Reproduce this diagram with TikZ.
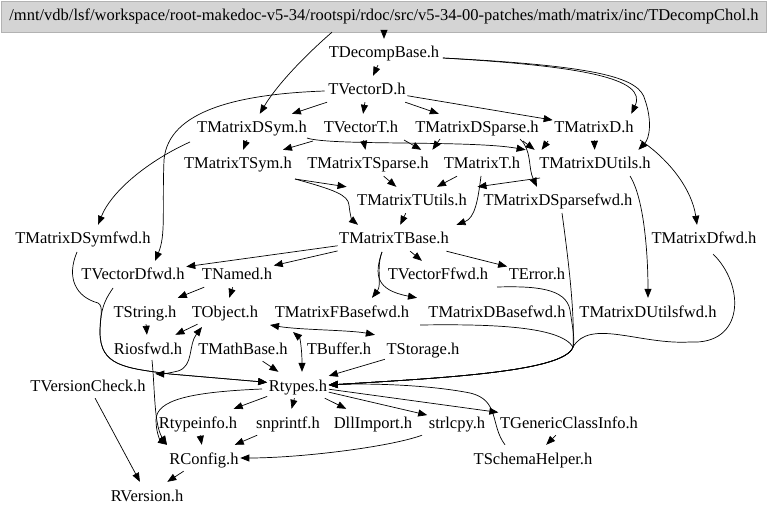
\documentclass[tikz,border=0pt]{standalone}
\usepackage{fontspec}
\setmainfont{Liberation Serif}
\usetikzlibrary{arrows.meta}
\newcommand\nodefont{\fontsize{16.5bp}{19bp}\selectfont}
\tikzset{
  nd/.style={anchor=base, text height=19bp, text depth=7bp, inner ysep=0pt, inner xsep=1.5bp, font=\nodefont},
  edg/.style={draw, line width=0.7bp, -{Triangle[length=9bp,width=7bp]}},
  edgtwo/.style={draw, line width=0.7bp, {Triangle[length=9bp,width=7bp]}-{Triangle[length=9bp,width=7bp]}},
  titlebox/.style={draw=black!30, fill=black!17, minimum width=765bp, minimum height=31bp, inner sep=0pt, font=\nodefont}
}
\begin{document}
\begin{tikzpicture}[x=1bp,y=-1bp]
\useasboundingbox (0,0) rectangle (768,515);
\node[titlebox] (title) at (384,16.5) {/mnt/vdb/lsf/workspace/root-makedoc-v5-34/rootspi/rdoc/src/v5-34-00-patches/math/matrix/inc/TDecompChol.h};
\node[nd] (TDecompBase) at (384,58) {TDecompBase.h};
\node[nd] (TVectorD) at (367,95) {TVectorD.h};
\node[nd] (TMatrixDSym) at (252,133) {TMatrixDSym.h};
\node[nd] (TVectorT) at (361,133) {TVectorT.h};
\node[nd] (TMatrixDSparse) at (477,133) {TMatrixDSparse.h};
\node[nd] (TMatrixD) at (594,133) {TMatrixD.h};
\node[nd] (TMatrixTSym) at (238,169) {TMatrixTSym.h};
\node[nd] (TMatrixTSparse) at (368,169) {TMatrixTSparse.h};
\node[nd] (TMatrixT) at (482,169) {TMatrixT.h};
\node[nd] (TMatrixDUtils) at (595,169) {TMatrixDUtils.h};
\node[nd] (TMatrixTUtils) at (412,206) {TMatrixTUtils.h};
\node[nd] (TMatrixDSparsefwd) at (558,206) {TMatrixDSparsefwd.h};
\node[nd] (TMatrixDSymfwd) at (83,244) {TMatrixDSymfwd.h};
\node[nd] (TMatrixTBase) at (394,244) {TMatrixTBase.h};
\node[nd] (TMatrixDfwd) at (704,244) {TMatrixDfwd.h};
\node[nd] (TVectorDfwd) at (133,280) {TVectorDfwd.h};
\node[nd] (TNamed) at (237,280) {TNamed.h};
\node[nd] (TVectorFfwd) at (438,280) {TVectorFfwd.h};
\node[nd] (TError) at (537,280) {TError.h};
\node[nd] (TString) at (145,317) {TString.h};
\node[nd] (TObject) at (225,317) {TObject.h};
\node[nd] (TMatrixFBasefwd) at (342,317) {TMatrixFBasefwd.h};
\node[nd] (TMatrixDBasefwd) at (497,317) {TMatrixDBasefwd.h};
\node[nd] (TMatrixDUtilsfwd) at (648,317) {TMatrixDUtilsfwd.h};
\node[nd] (Riosfwd) at (148,354) {Riosfwd.h};
\node[nd] (TMathBase) at (243,354) {TMathBase.h};
\node[nd] (TBuffer) at (339,354) {TBuffer.h};
\node[nd] (TStorage) at (423,354) {TStorage.h};
\node[nd] (TVersionCheck) at (88,391) {TVersionCheck.h};
\node[nd] (Rtypes) at (298,391) {Rtypes.h};
\node[nd] (Rtypeinfo) at (198,428) {Rtypeinfo.h};
\node[nd] (snprintf) at (288,428) {snprintf.h};
\node[nd] (DllImport) at (373,428) {DllImport.h};
\node[nd] (strlcpy) at (457,428) {strlcpy.h};
\node[nd] (TGenericClassInfo) at (569,428) {TGenericClassInfo.h};
\node[nd] (RConfig) at (204,464) {RConfig.h};
\node[nd] (TSchemaHelper) at (533,464) {TSchemaHelper.h};
\node[nd] (RVersion) at (147,501) {RVersion.h};
% top part
\draw[edg] (title) -- (TDecompBase);
\draw[edg] ([xshift=-52bp]title.south) .. controls (300,60) and (275,88) .. (TMatrixDSym);
\draw[edg] (TDecompBase) -- (TVectorD);
\draw[edg] ([shift={(2,6)}]TDecompBase.east) .. controls (580,66) and (648,78) .. ([xshift=-4bp]TMatrixD.north east);
\draw[edg] ([shift={(2,6)}]TDecompBase.east) .. controls (600,66) and (640,78) .. (645,100) .. controls (652,120) and (650,138) .. ([xshift=-14bp]TMatrixDUtils.north east);
\draw[edg] (TVectorD) -- (TMatrixDSym);
\draw[edg] (TVectorD) -- (TVectorT);
\draw[edg] (TVectorD) -- (TMatrixDSparse);
\draw[edg] (TVectorD) -- (TMatrixD);
\draw[edg] ([shift={(-2,2)}]TVectorD.west) .. controls (240,94) and (168,110) .. (164,160) .. controls (162,210) and (166,235) .. ([xshift=22bp]TVectorDfwd.north);
\draw[edg] (TMatrixDSym) -- (TMatrixTSym);
\draw[edg] ([shift={(-62,15)}]TMatrixDSym.center) .. controls (150,160) and (112,190) .. ([xshift=15bp]TMatrixDSymfwd.north);
\draw[edg] ([shift={(-48,14)}]TVectorT.center) -- (TMatrixTSym);
\draw[edg] (TVectorT) -- (TMatrixTSparse);
\draw[edg] ([shift={(43,13)}]TVectorT.center) -- ([xshift=-21bp]TMatrixT.north west);
\draw[edg] ([shift={(55,11)}]TMatrixDSym.center) .. controls (330,146) and (470,140) .. ([xshift=-12bp]TMatrixDUtils.north west);
\draw[edg] ([shift={(-37,12)}]TMatrixDSparse.center) -- ([xshift=2bp]TMatrixTSparse.north east);
\draw[edg] ([shift={(46,14)}]TMatrixDSparse.center) -- ([xshift=-3bp]TMatrixDUtils.north west);
\draw[edg] ([shift={(-46,14)}]TMatrixD.center) -- ([xshift=4bp]TMatrixDUtils.north west);
\draw[edg] ([shift={(43,12)}]TMatrixDSparse.center) .. controls (532,150) and (528,168) .. ([xshift=-21bp]TMatrixDSparsefwd.north);
\draw[edg] (TMatrixD) -- (TMatrixDUtils);
\draw[edg] ([shift={(46,13)}]TMatrixD.center) .. controls (670,160) and (692,190) .. ([xshift=-7bp]TMatrixDfwd.north);
\draw[edg] ([shift={(35,13)}]TMatrixDUtils.center) .. controls (645,200) and (648,260) .. (TMatrixDUtilsfwd);
\draw[edg] ([shift={(-55,15)}]TMatrixDUtils.center) -- ([xshift=9bp]TMatrixTUtils.north east);
\draw[edg] (TMatrixT) -- (TMatrixTUtils);
\draw[edg] (TMatrixTSparse) -- (TMatrixTUtils);
\draw[edg] ([shift={(57,16)}]TMatrixTSym.center) -- ([xshift=-9bp]TMatrixTUtils.north west);
\draw[edg] ([shift={(57,16)}]TMatrixTSym.center) .. controls (335,190) and (348,195) .. (349,205) .. controls (350,215) and (352,220) .. ([xshift=-36bp]TMatrixTBase.north);
\draw[edg] ([shift={(-1,13)}]TMatrixT.center) .. controls (478,200) and (475,218) .. ([xshift=6bp]TMatrixTBase.north east);
\draw[edg] (TMatrixTUtils) -- (TMatrixTBase);
% TMatrixTBase
\draw[edg] (TMatrixTBase) -- (TVectorDfwd);
\draw[edg] (TMatrixTBase) -- (TNamed);
\draw[edg] (TMatrixTBase) -- (TVectorFfwd);
\draw[edg] (TMatrixTBase) -- (TError);
\draw[edg] ([shift={(-12,14)}]TMatrixTBase.center) .. controls (376,268) and (382,285) .. ([xshift=30bp]TMatrixFBasefwd.north);
\draw[edg] ([shift={(-12,14)}]TMatrixTBase.center) .. controls (374,275) and (376,290) .. ([xshift=-80bp]TMatrixDBasefwd.north);
% right bundle into Rtypes
\draw[edg] ([shift={(-40,13)}]TError.center) .. controls (535,286) and (566,288) .. (570,310) .. controls (573,330) and (575,340) .. (573,347) .. controls (565,372) and (440,378) .. (Rtypes.east);
\draw[edg] ([shift={(4,13)}]TMatrixDSparsefwd.center) .. controls (567,250) and (575,310) .. (573,347) .. controls (565,372) and (440,378) .. (Rtypes.east);
\draw[edg] ([shift={(-77,14)}]TMatrixDBasefwd.center) .. controls (490,324) and (560,326) .. (573,347) .. controls (565,372) and (440,378) .. (Rtypes.east);
\draw[edg] ([shift={(9,16)}]TMatrixDfwd.center) .. controls (745,285) and (745,345) .. (690,342) .. controls (640,345) and (590,318) .. (573,347) .. controls (565,372) and (440,378) .. (Rtypes.east);
% left bundle into Rtypes
\draw[edg] ([shift={(-6,14)}]TMatrixDSymfwd.center) .. controls (66,278) and (76,297) .. (98,303) .. controls (104,306) and (100,318) .. (100,332) .. controls (100,366) and (125,368) .. (170,374) -- (Rtypes);
\draw[edg] ([shift={(-20,14)}]TVectorDfwd.center) .. controls (108,296) and (100,305) .. (100,332) .. controls (100,366) and (125,368) .. (170,374) -- (Rtypes);
% middle
\draw[edg] (TNamed) -- (TString);
\draw[edg] (TNamed) -- (TObject);
\draw[edg] (TString) -- (Riosfwd);
\draw[edg] (TObject) -- (Riosfwd);
\draw[edgtwo] ([shift={(-23,16)}]TObject.center) .. controls (188,345) and (194,366) .. (178,371) .. controls (170,373) and (162,374) .. ([shift={(8,2)}]TVersionCheck.north east);
\draw[edgtwo] ([shift={(45,14)}]TObject.center) .. controls (300,330) and (350,330) .. ([xshift=-10bp]TStorage.north west);
\draw[edgtwo] ([shift={(68,21)}]TObject.center) .. controls (300,338) and (302,350) .. ([xshift=4bp]Rtypes.north);
\draw[edg] (TMathBase) -- (Rtypes);
\draw[edg] (TStorage) -- (Rtypes);
% Rtypes outgoing
\draw[edg] (Rtypes) -- (Rtypeinfo);
\draw[edg] (Rtypes) -- (snprintf);
\draw[edg] (Rtypes) -- (DllImport);
\draw[edg] (Rtypes) -- (strlcpy);
\draw[edg] (Rtypes) -- (TGenericClassInfo);
\draw[edg] ([xshift=-28bp]TSchemaHelper.north) .. controls (490,425) and (500,400) .. (470,393) .. controls (430,385) and (370,383) .. (Rtypes.east);
\draw[edg] (TGenericClassInfo) -- (TSchemaHelper);
\draw[edg] (Rtypeinfo) -- (RConfig);
\draw[edg] (snprintf) -- (RConfig);
\draw[edg] ([xshift=-35bp]strlcpy.south) .. controls (390,447) and (300,458) .. (RConfig.east);
\draw[edg] ([shift={(-36,4)}]Rtypes.center) .. controls (190,392) and (156,400) .. (156,420) .. controls (156,432) and (160,440) .. ([xshift=-37bp]RConfig.north);
\draw[edg] ([shift={(4,12)}]Riosfwd.center) .. controls (155,390) and (154,425) .. ([xshift=-37bp]RConfig.north);
\draw[edg] (RConfig) -- (RVersion);
\draw[edg] (TVersionCheck) -- (RVersion);
\end{tikzpicture}
\end{document}
